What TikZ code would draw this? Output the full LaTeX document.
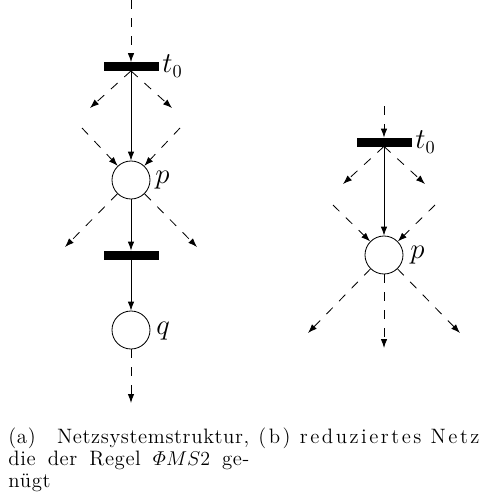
\documentclass[tikz,border=0pt]{standalone}
\usepackage{amsmath}
\usepackage{fontspec}
\setmainfont{Latin Modern Roman}
\usetikzlibrary{arrows.meta}
\begin{document}
\begin{tikzpicture}[x=0.6pt,y=-0.6pt,line width=0.5pt,
  trans/.style={draw,fill=black,minimum width=32.4pt,minimum height=4.8pt,inner sep=0pt},
  place/.style={draw,circle,minimum size=22.8pt,inner sep=0pt},
  arc/.style={-{Latex[length=5.4pt,width=3.9pt]}},
  dasharc/.style={arc,dash pattern=on 5.4pt off 5.4pt},
  lab/.style={font=\fontsize{16}{19}\selectfont,inner sep=0pt,anchor=west},
  capt/.style={inner sep=0pt,anchor=north west},
]
\useasboundingbox (0,0) rectangle (485,492);
% ---------- left net ----------
\node[trans] (lt0) at (131,66.5) {};
\node[place] (lp) at (131,180) {};
\node[trans] (lt1) at (131,255) {};
\node[place] (lq) at (131,330) {};
\node[lab] (llt0) at (162,66) {$t_0$};
\node[lab] (llp) at (155,180) {$p$};
\node[lab] (llq) at (156,331) {$q$};
\coordinate (ltop) at (131,0);
\coordinate (lo1) at (90,108);
\coordinate (lo2) at (172,108);
\coordinate (li1) at (82,128);
\coordinate (li2) at (180,128);
\coordinate (lpo1) at (65,247);
\coordinate (lpo2) at (197,247);
\coordinate (lqo) at (131,403);
\draw[dasharc] (ltop) -- (lt0.north);
\draw[dasharc] (lt0.south) -- (lo1);
\draw[dasharc] (lt0.south) -- (lo2);
\draw[arc] (lt0.south) -- (lp);
\draw[dasharc] (li1) -- (lp);
\draw[dasharc] (li2) -- (lp);
\draw[dasharc] (lp) -- (lpo1);
\draw[dasharc] (lp) -- (lpo2);
\draw[arc] (lp) -- (lt1.north);
\draw[arc] (lt1.south) -- (lq);
\draw[dasharc] (lq) -- (lqo);
% ---------- right net ----------
\node[trans] (rt0) at (384,142) {};
\node[place] (rp) at (384,255) {};
\node[lab] (rlt0) at (415,142) {$t_0$};
\node[lab] (rlp) at (410,255) {$p$};
\coordinate (rtop) at (384,106);
\coordinate (ro1) at (343,184);
\coordinate (ro2) at (425,184);
\coordinate (ri1) at (333,205);
\coordinate (ri2) at (435,205);
\coordinate (rpo1) at (308,333);
\coordinate (rpo2) at (384,348);
\coordinate (rpo3) at (460,333);
\draw[dasharc] (rtop) -- (rt0.north);
\draw[dasharc] (rt0.south) -- (ro1);
\draw[dasharc] (rt0.south) -- (ro2);
\draw[arc] (rt0.south) -- (rp);
\draw[dasharc] (ri1) -- (rp);
\draw[dasharc] (ri2) -- (rp);
\draw[dasharc] (rp) -- (rpo1);
\draw[dasharc] (rp) -- (rpo2);
\draw[dasharc] (rp) -- (rpo3);
% ---------- captions ----------
\node[capt,text width=144.6pt,align=justify,
  font=\fontsize{12.5}{13.4}\selectfont\addfontfeatures{LetterSpace=3}] (capa) at (8,427)
  {(a) Netzsystemstruktur,\linebreak die der Regel $\varPhi MS2$ ge-\linebreak nügt};
\node[capt,font=\fontsize{12.5}{13.4}\selectfont\addfontfeatures{LetterSpace=12}] (capb) at (258,427) {(b) reduziertes Netz};
\end{tikzpicture}
\end{document}
